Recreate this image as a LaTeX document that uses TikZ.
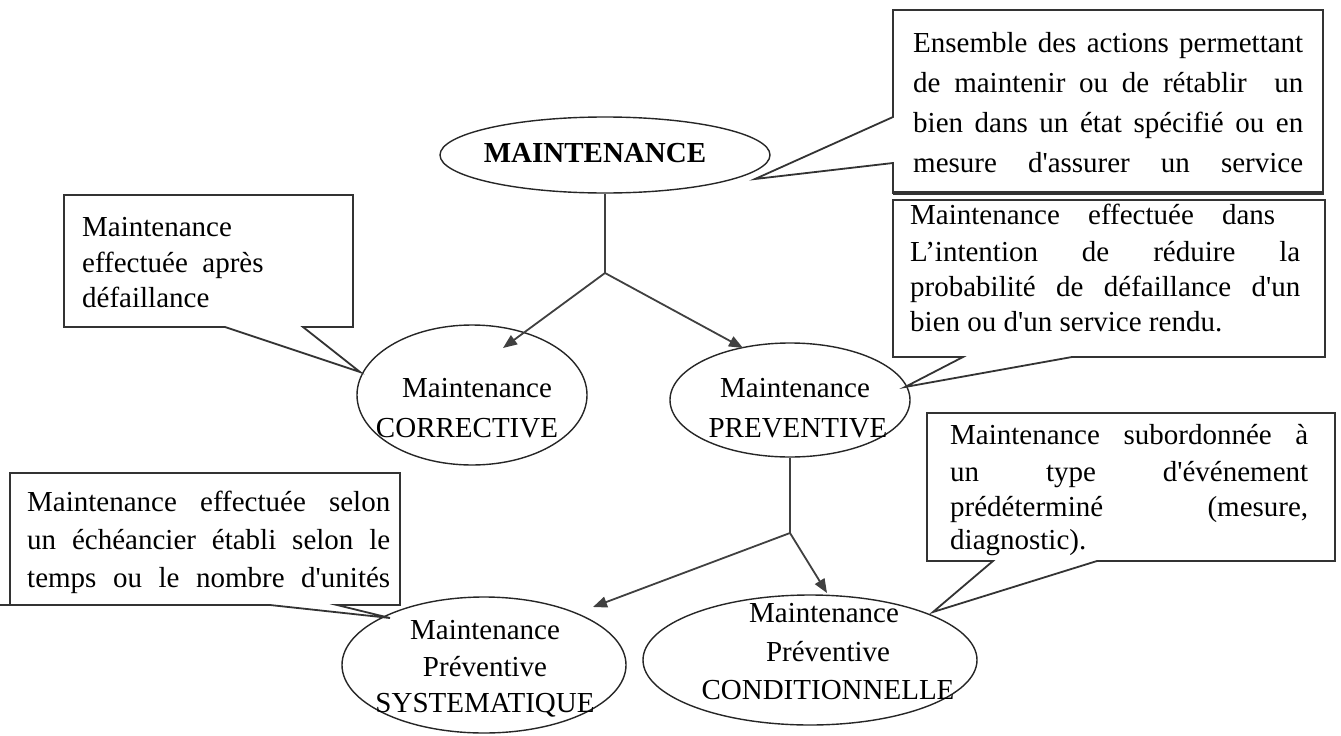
\documentclass[tikz,border=0pt]{standalone}
\usepackage{fontspec}
\setmainfont{Liberation Serif}
\usetikzlibrary{arrows.meta,shapes.geometric}
\newcommand{\jl}[2]{\makebox[#1pt][s]{#2}}
\newcommand{\aq}{\textquotesingle}
\begin{document}
\begin{tikzpicture}[x=1pt,y=-1pt,
  ell/.style={draw=black!85, line width=1.4pt, ellipse, inner sep=0pt},
  box/.style={draw=black!80, line width=1.8pt, line join=miter},
  conn/.style={draw=black!75, line width=1.8pt},
  arr/.style={conn, -{Triangle[length=14pt,width=11pt]}},
  tx/.style={inner sep=0pt, anchor=base west, font=\fontsize{29}{34}\selectfont},
  ct/.style={inner sep=0pt, anchor=base, font=\fontsize{29}{34}\selectfont}]
\useasboundingbox (0,0) rectangle (1341,736);
\fill[white] (0,0) rectangle (1341,736);

% ellipses
\node[ell, minimum width=330pt, minimum height=76pt] (maint) at (605,155) {};
\node[ell, minimum width=230pt, minimum height=140pt] (corr) at (472,395) {};
\node[ell, minimum width=240pt, minimum height=114pt] (prev) at (790,400) {};
\node[ell, minimum width=284pt, minimum height=136pt] (syst) at (484,665) {};
\node[ell, minimum width=334pt, minimum height=130pt] (cond) at (810,660) {};

% ellipse texts
\node[ct, font=\fontsize{29}{34}\selectfont\bfseries] (tmaint) at (595,162) {MAINTENANCE};
\node[ct] (tcorr1) at (477,397) {Maintenance};
\node[ct] (tcorr2) at (467,437) {CORRECTIVE};
\node[ct] (tprev1) at (795,397) {Maintenance};
\node[ct] (tprev2) at (798,437) {PREVENTIVE};
\node[ct] (tsyst1) at (485,639) {Maintenance};
\node[ct] (tsyst2) at (485,676) {Préventive};
\node[ct] (tsyst3) at (485,712) {SYSTEMATIQUE};
\node[ct] (tcond1) at (824,622) {Maintenance};
\node[ct] (tcond2) at (828,661) {Préventive};
\node[ct] (tcond3) at (828,699) {CONDITIONNELLE};

% connectors
\coordinate (j1) at (605,273);
\coordinate (tipC) at (503,348);
\coordinate (tipP) at (743,348);
\coordinate (j2) at (790,533);
\coordinate (tipS) at (593,607);
\coordinate (tipK) at (827,593);
\draw[conn] (maint.south) -- (j1);
\draw[arr] (j1) -- (tipC);
\draw[arr] (j1) -- (tipP);
\draw[conn] (prev.south) -- (j2);
\draw[arr] (j2) -- (tipS);
\draw[arr] (j2) -- (tipK);

% callout: top right
\draw[box] (893,10) -- (1323,10) -- (1323,193) -- (893,193) -- (893,163) -- (755,179) -- (893,117) -- cycle;
\draw[box, line width=3.2pt] (893,193) -- (1324,193);
\node[tx] (a1) at (913,52) {\jl{390}{Ensemble des actions permettant}};
\node[tx] (a2) at (913,92) {\jl{390}{de maintenir ou de rétablir\ \ un}};
\node[tx] (a3) at (913,132) {\jl{390}{bien dans un état spécifié ou en}};
\node[tx] (a4) at (913,172) {\jl{390}{mesure d\aq assurer un service}};

% callout: left
\draw[box] (64,195) -- (353,195) -- (353,327) -- (303,327) -- (360,372) -- (225,327) -- (64,327) -- cycle;
\node[tx] (b1) at (82,236) {Maintenance};
\node[tx] (b2) at (82,272) {effectuée\ \ après};
\node[tx] (b3) at (82,307) {défaillance};

% callout: middle right
\draw[box] (893,200) -- (1325,200) -- (1325,357) -- (1072,357) -- (905,387) -- (963,357) -- (893,357) -- cycle;
\node[tx] (c1) at (910,224) {\jl{365}{Maintenance effectuée dans}};
\node[tx] (c2) at (910,261) {\jl{390}{L’intention de réduire la}};
\node[tx] (c3) at (910,296) {\jl{390}{probabilité de défaillance d\aq un}};
\node[tx] (c4) at (910,331) {bien ou d\aq un service rendu.};

% callout: bottom right
\draw[box] (927,413) -- (1335,413) -- (1335,561) -- (1097,561) -- (933,612) -- (993,561) -- (927,561) -- cycle;
\node[tx] (d1) at (950,444) {\jl{358}{Maintenance subordonnée à}};
\node[tx] (d2) at (950,481) {\jl{358}{un type d\aq événement}};
\node[tx] (d3) at (950,516) {\jl{358}{prédéterminé (mesure,}};
\node[tx] (d4) at (950,549) {diagnostic).};

% callout: bottom left
\draw[box] (10,473) -- (400,473) -- (400,605) -- (337,605) -- (390,618) -- (270,605) -- (10,605) -- cycle;
\draw[box] (10,605) -- (0,605);
\node[tx] (e1) at (27,511) {\jl{363}{Maintenance effectuée selon}};
\node[tx] (e2) at (27,549) {\jl{363}{un échéancier établi selon le}};
\node[tx] (e3) at (27,587) {\jl{363}{temps ou le nombre d\aq unités}};
\end{tikzpicture}
\end{document}
